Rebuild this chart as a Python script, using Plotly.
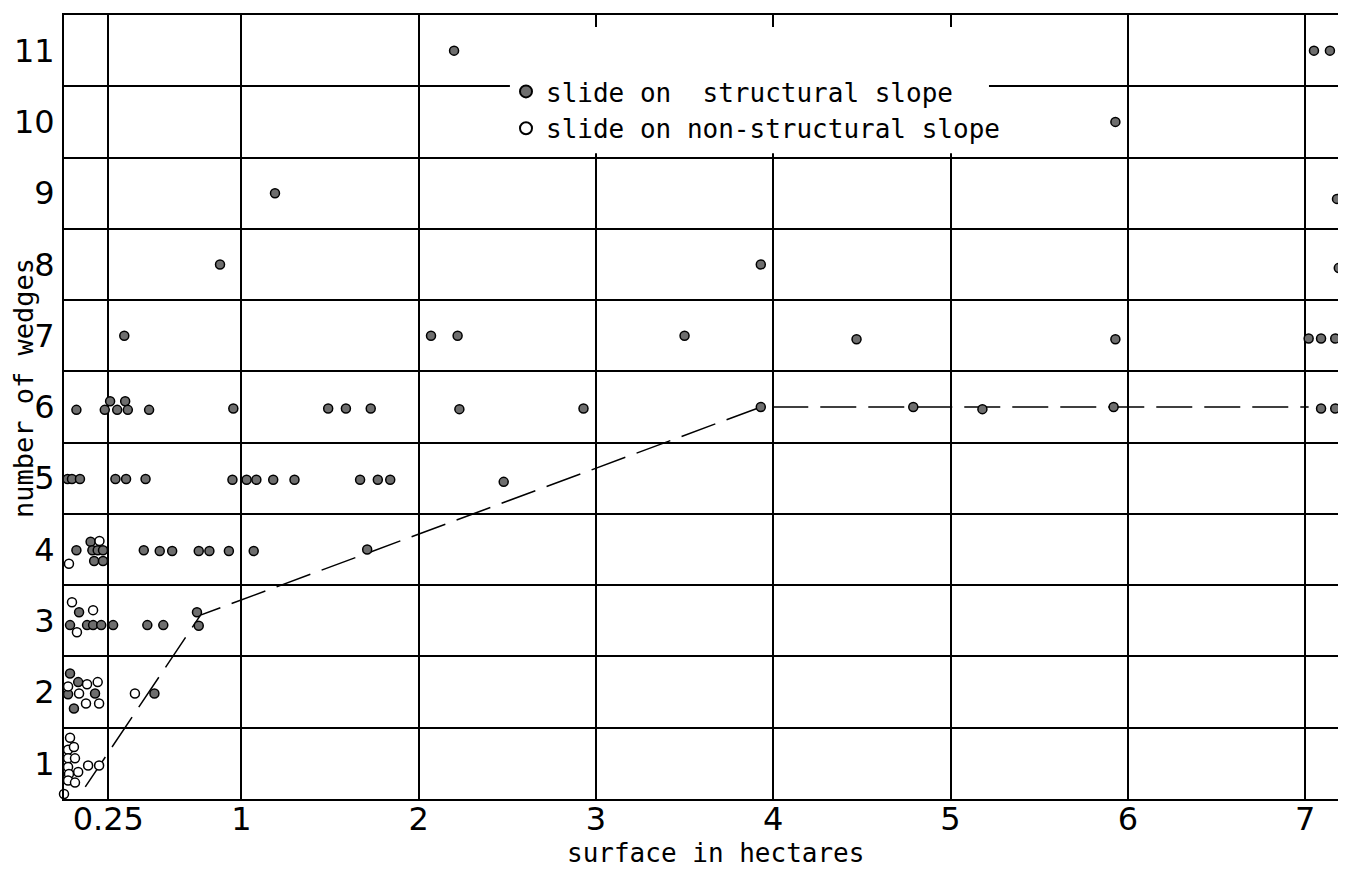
import plotly.graph_objects as go

# ---- data (surface in hectares, number of wedges) ----
struct_x = [2.20, 7.05, 7.14,
            5.93,
            1.19, 7.18,
            0.88, 3.93, 7.19,
            0.34, 2.07, 2.22, 3.50, 4.47, 5.93, 7.02, 7.09, 7.17,
            0.07, 0.23, 0.26, 0.30, 0.345, 0.36, 0.48, 0.955, 1.49, 1.59, 1.73, 2.23, 2.93, 3.93, 4.79, 5.18, 5.92, 7.09, 7.17,
            0.02, 0.045, 0.09, 0.29, 0.35, 0.46, 0.95, 1.03, 1.085, 1.18, 1.30, 1.67, 1.77, 1.84, 2.48,
            0.07, 0.15, 0.16, 0.19, 0.22, 0.17, 0.22, 0.45, 0.54, 0.61, 0.76, 0.82, 0.93, 1.07, 1.71,
            0.085, 0.034, 0.13, 0.164, 0.21, 0.277, 0.47, 0.56, 0.75, 0.76,
            0.034, 0.023, 0.08, 0.175, 0.056, 0.51]
struct_y = [11.0, 11.0, 11.0,
            10.0,
            9.0, 8.92,
            8.0, 8.0, 7.95,
            7.0, 7.0, 7.0, 7.0, 6.95, 6.95, 6.96, 6.96, 6.96,
            5.96, 5.96, 6.08, 5.96, 6.08, 5.96, 5.96, 5.98, 5.98, 5.98, 5.98, 5.97, 5.98, 6.0, 6.0, 5.97, 6.0, 5.98, 5.98,
            4.99, 4.99, 4.99, 4.99, 4.99, 4.99, 4.98, 4.98, 4.98, 4.98, 4.98, 4.98, 4.98, 4.98, 4.95,
            3.99, 4.11, 3.99, 3.99, 3.99, 3.84, 3.84, 3.99, 3.98, 3.98, 3.98, 3.98, 3.98, 3.98, 4.0,
            3.12, 2.94, 2.94, 2.94, 2.94, 2.94, 2.94, 2.94, 3.12, 2.93,
            2.26, 1.97, 2.14, 1.98, 1.77, 1.98]

nonstruct_x = [0.028, 0.20,
               0.045, 0.164, 0.073,
               0.023, 0.13, 0.19, 0.085, 0.124, 0.198, 0.40,
               0.034, 0.023, 0.056, 0.023, 0.062, 0.023, 0.08, 0.028, 0.023, 0.062, 0.0, 0.136, 0.198]
nonstruct_y = [3.80, 4.12,
               3.26, 3.15, 2.84,
               2.08, 2.11, 2.14, 1.98, 1.84, 1.84, 1.98,
               1.36, 1.19, 1.23, 1.07, 1.07, 0.95, 0.88, 0.85, 0.76, 0.73, 0.57, 0.97, 0.97]

trend_x = [0.12, 0.77, 3.93, 7.02]
trend_y = [0.67, 3.08, 6.0, 6.0]

x_tickvals = [0.25, 1, 2, 3, 4, 5, 6, 7]
x_ticktext = ["0.25", "1", "2", "3", "4", "5", "6", "7"]
y_tickvals = [1, 2, 3, 4, 5, 6, 7, 8, 9, 10, 11]
y_gridvals = [1.5, 2.5, 3.5, 4.5, 5.5, 6.5, 7.5, 8.5, 9.5, 10.5]

legend_names = ["slide on  structural slope", "slide on non-structural slope"]
x_title = "surface in hectares"
y_title = "number of wedges"

TEXT_FONT = "DejaVu Sans Mono, monospace"
DIGIT_FONT = "DejaVu Sans, sans-serif"

# page has an 8px body margin; the figure is sized to fill the rest of the window
W, H = 1338, 861
ML, MR, MT, MB = 56, 0, 7, 70
PLOT_W = W - ML - MR
PLOT_H = H - MT - MB
PAGE_LEFT, PAGE_BOTTOM = 64, 799   # plot-area edges in window pixels


def px_x(p):
    return (p - PAGE_LEFT) / PLOT_W


def px_y(p):
    return (PAGE_BOTTOM - p) / PLOT_H


fig = go.Figure()

fig.add_trace(go.Scatter(
    x=trend_x, y=trend_y, mode="lines",
    line=dict(color="black", width=1.5, dash="36px,12px"),
    showlegend=False, hoverinfo="skip"))

fig.add_trace(go.Scatter(
    x=struct_x, y=struct_y, mode="markers", name=legend_names[0],
    marker=dict(size=9, color="#6e6e6e", line=dict(color="black", width=1.5)),
    cliponaxis=False))

fig.add_trace(go.Scatter(
    x=nonstruct_x, y=nonstruct_y, mode="markers", name=legend_names[1],
    marker=dict(size=9, color="white", line=dict(color="black", width=1.5)),
    cliponaxis=False))

# white area behind the legend (covers grid lines)
fig.add_shape(type="rect", xref="x", yref="y", x0=2.515, x1=5.217, y0=9.56, y1=11.33,
              fillcolor="white", line=dict(width=0), layer="between")

fig.add_annotation(text=y_title, xref="paper", yref="paper",
                   x=px_x(24), y=px_y(388),
                   xanchor="center", yanchor="middle", textangle=-90, showarrow=False,
                   font=dict(family=TEXT_FONT, size=27, color="black"))

fig.add_annotation(text=x_title, xref="paper", yref="paper",
                   x=px_x(715), y=px_y(853),
                   xanchor="center", yanchor="middle", showarrow=False,
                   font=dict(family=TEXT_FONT, size=26, color="black"))

fig.update_layout(
    width=W, height=H,
    margin=dict(l=ML, r=MR, t=MT, b=MB, autoexpand=False),
    paper_bgcolor="white", plot_bgcolor="white",
    font=dict(family=TEXT_FONT, color="black"),
    legend=dict(x=px_x(506), y=px_y(68),
                xanchor="left", yanchor="top",
                bgcolor="rgba(0,0,0,0)", font=dict(family=TEXT_FONT, size=26, color="black"),
                itemsizing="constant", tracegroupgap=0),
    xaxis=dict(range=[0, PLOT_W / 177.3], tickvals=x_tickvals, ticktext=x_ticktext,
               showgrid=True, gridcolor="black", gridwidth=1.5,
               showline=True, linecolor="black", linewidth=2, mirror=True,
               ticks="", ticklen=0, zeroline=False, ticklabelstandoff=-9, automargin=False,
               tickfont=dict(family=DIGIT_FONT, size=32, color="black")),
    yaxis=dict(range=[0.5, 11.5], tickvals=y_tickvals,
               showgrid=False, zeroline=False,
               showline=True, linecolor="black", linewidth=2, mirror=False,
               ticks="", ticklen=0, ticklabelstandoff=1, automargin=False,
               tickfont=dict(family=DIGIT_FONT, size=32, color="black"),
               minor=dict(tickvals=y_gridvals, showgrid=True, gridcolor="black", gridwidth=1.5, ticks="")),
)

fig.write_html("out.html")
